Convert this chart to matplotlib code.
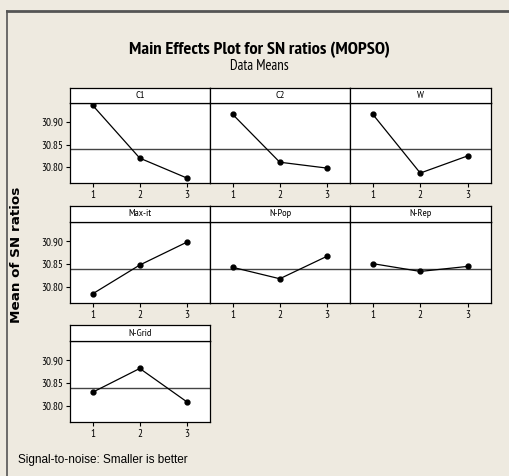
import matplotlib
matplotlib.use("Agg")
import matplotlib.pyplot as plt

# level settings on x axis
levels = [1, 2, 3]

# mean SN ratio per factor level
c1 = [30.937, 30.820, 30.776]
c2 = [30.917, 30.811, 30.798]
w = [30.917, 30.787, 30.825]
max_it = [30.785, 30.848, 30.898]
n_pop = [30.843, 30.818, 30.867]
n_rep = [30.851, 30.834, 30.845]
n_grid = [30.830, 30.882, 30.809]

factor_names = ["C1", "C2", "W", "Max-it", "N-Pop", "N-Rep", "N-Grid"]
factor_values = [c1, c2, w, max_it, n_pop, n_rep, n_grid]

grand_mean = 30.840
y_ticks = [30.80, 30.85, 30.90]
y_tick_labels = ["30.80", "30.85", "30.90"]

bg = "#eeeae0"
narrow = ["PT Sans Narrow", "DejaVu Sans"]

W, H = 510, 476
fig = plt.figure(figsize=(W / 100, H / 100), dpi=100, facecolor=bg)

# outer frame lines (top and left)
fig.add_artist(plt.Line2D([7 / W, 1], [1 - 10.5 / H, 1 - 10.5 / H], color="#555555", lw=2))
fig.add_artist(plt.Line2D([7 / W, 7 / W], [0, 1 - 10.5 / H], color="#555555", lw=1.2))

col_x = [70, 210, 350]
col_w = [140, 140, 141]
rows = [(88, 103, 183), (206, 222, 303), (325, 341, 422)]  # strip top, plot top, plot bottom

for i, (name, vals) in enumerate(zip(factor_names, factor_values)):
    r, c = divmod(i, 3)
    st, pt, pb = rows[r]
    x0, cw = col_x[c], col_w[c]

    ax = fig.add_axes([x0 / W, 1 - pb / H, cw / W, (pb - pt) / H])
    ax.set_facecolor("white")
    ax.plot(levels, vals, color="black", lw=0.9, marker="o", ms=3.5, zorder=3)
    ax.axhline(grand_mean, color="#444444", lw=1.0, zorder=2)
    ax.set_xlim(0.52, 3.49)
    ax.set_ylim(30.765, 30.942)
    ax.set_xticks(levels)
    ax.set_xticklabels([str(v) for v in levels], fontsize=8, family=narrow)
    ax.set_yticks(y_ticks)
    ax.tick_params(direction="out", length=3, width=0.8, pad=2)
    if c == 0:
        ax.set_yticklabels(y_tick_labels, fontsize=8, family=narrow)
    else:
        ax.tick_params(axis="y", length=0)
        ax.set_yticklabels([])
    for s in ax.spines.values():
        s.set_linewidth(0.9)

    sax = fig.add_axes([x0 / W, 1 - pt / H, cw / W, (pt - st) / H])
    sax.set_facecolor("white")
    sax.set_xticks([])
    sax.set_yticks([])
    for s in sax.spines.values():
        s.set_linewidth(0.9)
    sax.text(0.5, 0.5, name, ha="center", va="center", fontsize=7.5, family=narrow,
             transform=sax.transAxes)

fig.text(259 / W, 1 - 50 / H, "Main Effects Plot for SN ratios (MOPSO)", ha="center", va="center",
         fontsize=13.3, fontweight="bold", family=narrow)
fig.text(259 / W, 1 - 66 / H, "Data Means", ha="center", va="center", fontsize=10.5, family=narrow)
fig.text(17 / W, 1 - 255 / H, "Mean of SN ratios", rotation=90, ha="center", va="center",
         fontsize=9.7, fontweight="bold", family=["DejaVu Sans"])
fig.text(18 / W, 1 - 460 / H, "Signal-to-noise: Smaller is better", ha="left", va="center",
         fontsize=8.5, family=["Liberation Sans", "DejaVu Sans"])

fig.savefig("out.png", dpi=100, facecolor=bg)
